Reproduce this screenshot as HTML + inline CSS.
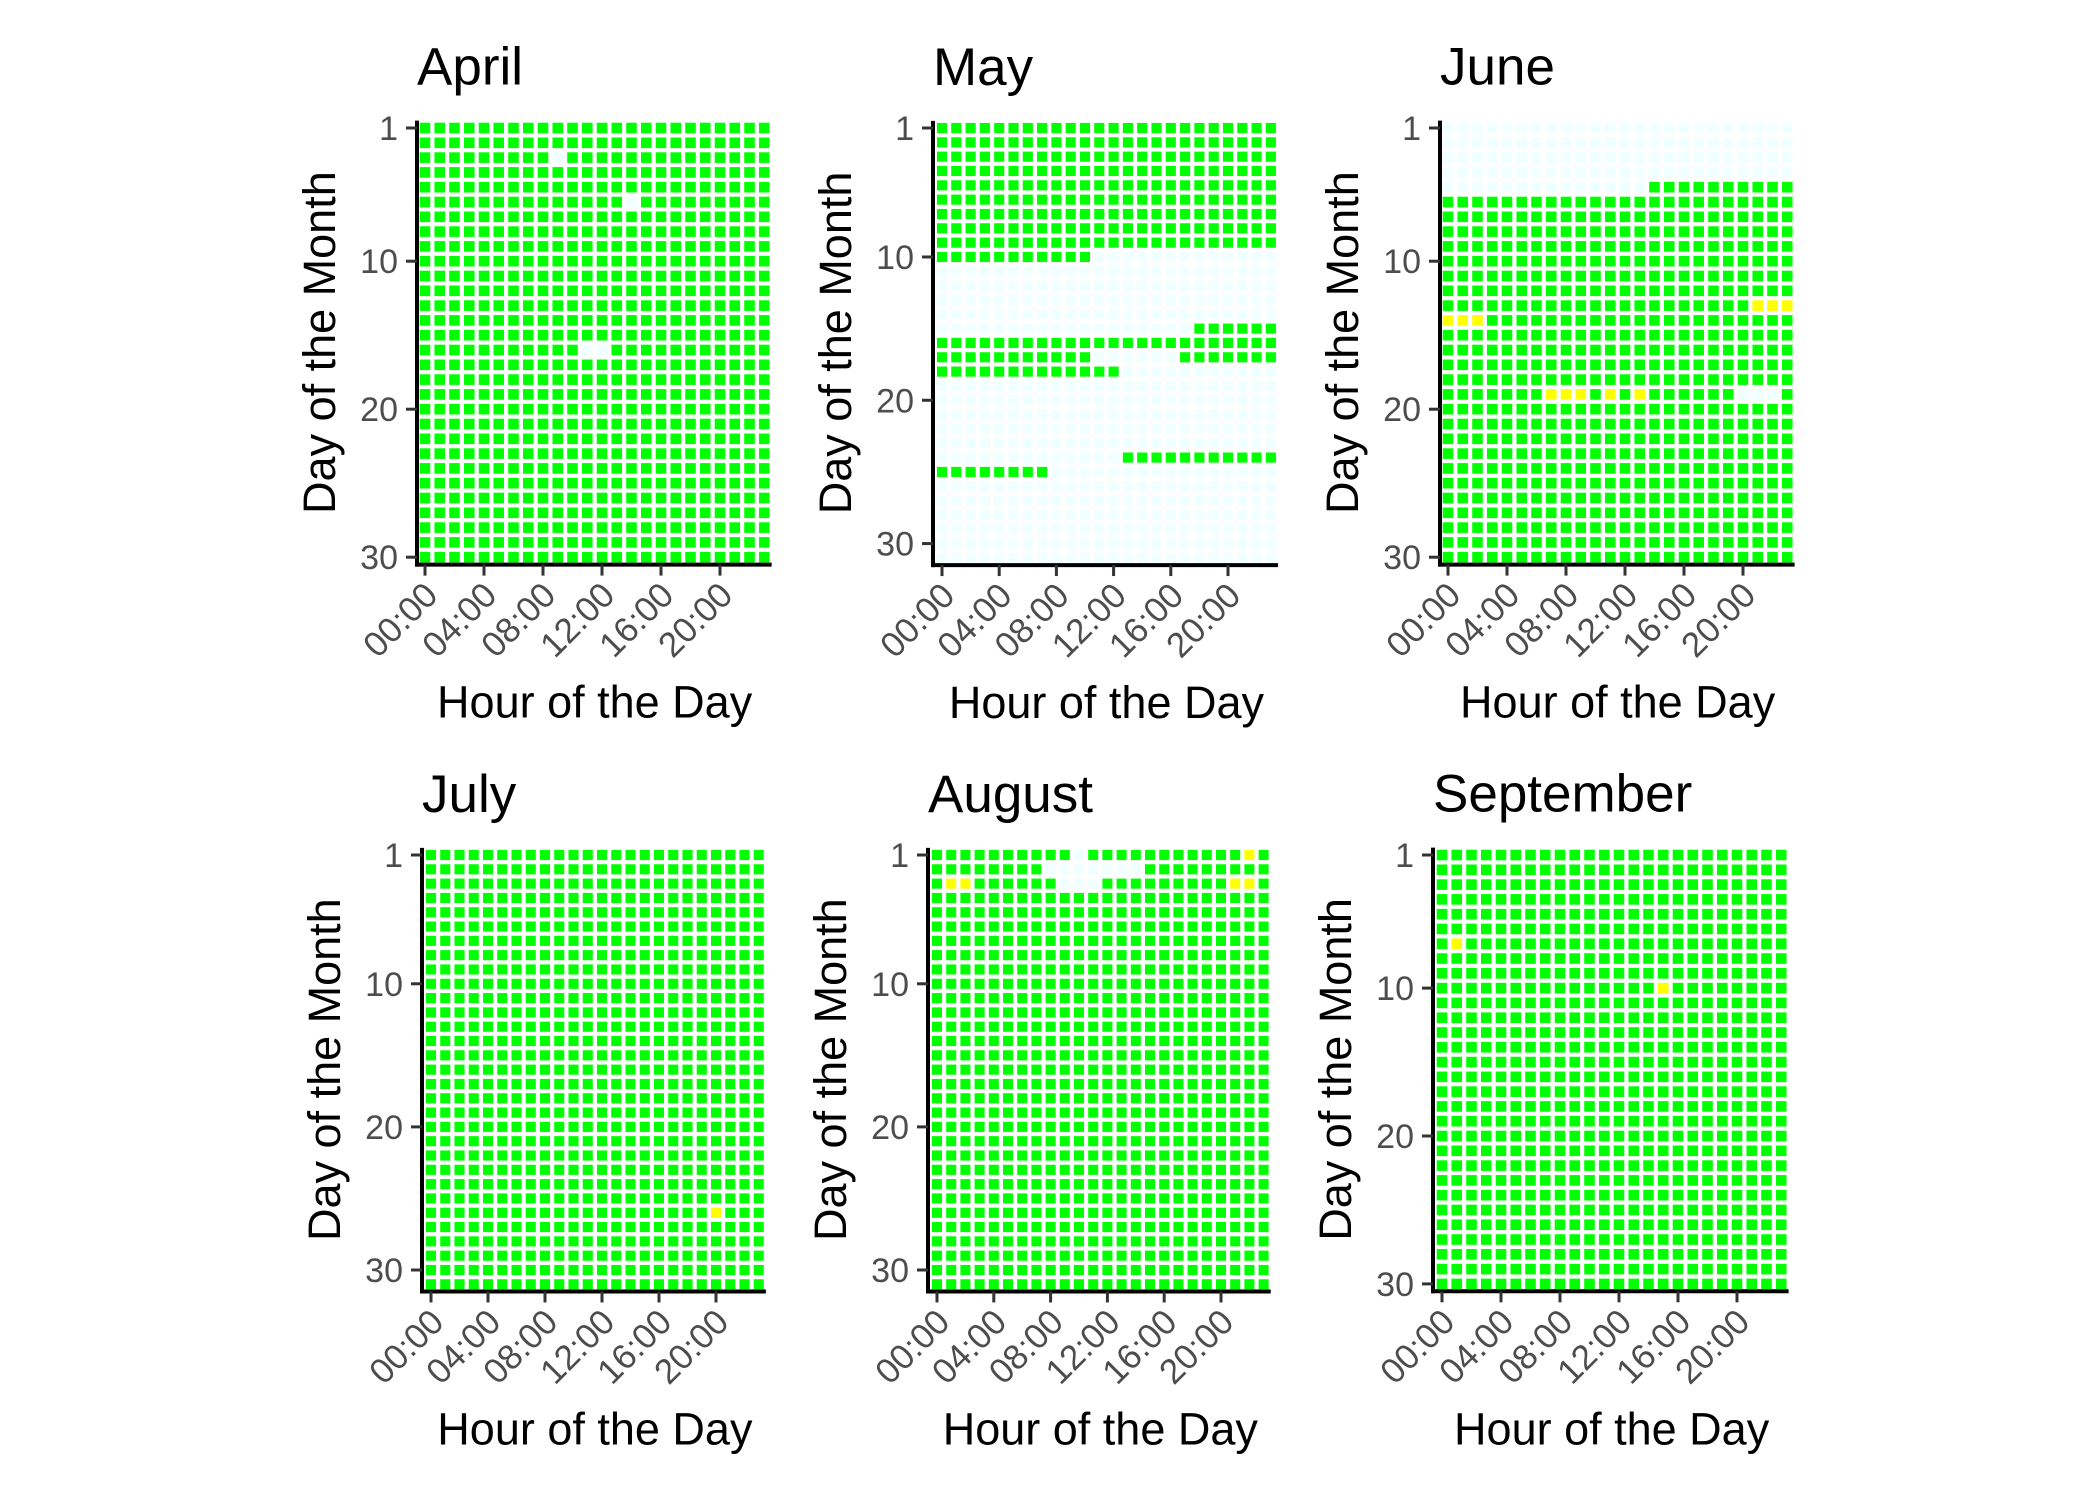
<!DOCTYPE html>
<html><head><meta charset="utf-8"><style>
html,body{margin:0;padding:0;background:#fff;}
svg{display:block;}
text{font-family:"Liberation Sans",Arial,sans-serif;}
</style></head><body>
<svg id="s" width="2100" height="1500" viewBox="0 0 2100 1500" xmlns="http://www.w3.org/2000/svg"></svg>
<script>
var G='#00FF00',Y='#FFFF00',L='#F0FFFF';
var P=[
 {t:'April',ax:417,c0:425,dx:14.75,n:30,r0:128,dy:14.8,f:function(d,c){
   if((d==3&&c==9)||(d==6&&c==14)||(d==16&&(c==11||c==12)))return L;return G;}},
 {t:'May',ax:933,c0:942,dx:14.3,n:31,r0:128,dy:14.33,f:function(d,c){
   if(d<=9)return G;
   if(d==10)return c<=10?G:L;
   if(d==15)return c>=18?G:L;
   if(d==16)return G;
   if(d==17)return (c<=10||c>=17)?G:L;
   if(d==18)return c<=12?G:L;
   if(d==24)return c>=13?G:L;
   if(d==25)return c<=7?G:L;
   return L;}},
 {t:'June',ax:1440,c0:1448,dx:14.75,n:30,r0:128,dy:14.8,f:function(d,c){
   if(d<=4)return L;
   if(d==5)return c>=14?G:L;
   if(d==13&&c>=21)return Y;
   if(d==14&&c<=2)return Y;
   if(d==19){if([7,8,9,11,13].indexOf(c)>=0)return Y;if(c>=20&&c<=22)return L;}
   return G;}},
 {t:'July',ax:422,c0:431,dx:14.25,n:31,r0:855,dy:14.31,f:function(d,c){
   return (d==26&&c==20)?Y:G;}},
 {t:'August',ax:928,c0:937,dx:14.2,n:31,r0:855,dy:14.31,f:function(d,c){
   if(d==1){if(c==10)return L;if(c==22)return Y;}
   if(d==2&&c>=8&&c<=14)return L;
   if(d==3){if(c==1||c==2||c==21||c==22)return Y;if(c>=9&&c<=11)return L;}
   return G;}},
 {t:'September',ax:1433,c0:1442,dx:14.75,n:30,r0:855,dy:14.79,f:function(d,c){
   if((d==7&&c==1)||(d==10&&c==15))return Y;return G;}}
];
var h='';
P.forEach(function(p){
  var top=p.r0-p.dy/2, bot=p.r0+(p.n-1)*p.dy+p.dy/2;
  var left=p.c0-p.dx/2, right=p.c0+23*p.dx+p.dx/2;
  for(var d=1;d<=p.n;d++){for(var c=0;c<24;c++){
    var x=p.c0+c*p.dx-p.dx/2+2.1, y=p.r0+(d-1)*p.dy-p.dy/2+2.1;
    h+='<rect x="'+x.toFixed(2)+'" y="'+y.toFixed(2)+'" width="'+(p.dx-4.2).toFixed(2)+'" height="'+(p.dy-4.2).toFixed(2)+'" fill="'+p.f(d,c)+'"/>';
  }}
  h+='<line x1="'+p.ax+'" y1="'+top+'" x2="'+p.ax+'" y2="'+(bot+2)+'" stroke="#000" stroke-width="4"/>';
  h+='<line x1="'+(p.ax-2)+'" y1="'+bot+'" x2="'+right+'" y2="'+bot+'" stroke="#000" stroke-width="4"/>';
  [1,10,20,30].forEach(function(v){
    var y=p.r0+(v-1)*p.dy;
    h+='<line x1="'+(p.ax-11)+'" y1="'+y+'" x2="'+p.ax+'" y2="'+y+'" stroke="#333" stroke-width="3"/>';
    h+='<text x="'+(p.ax-19)+'" y="'+(y+12)+'" font-size="34" fill="#4D4D4D" text-anchor="end">'+v+'</text>';
  });
  for(var k=0;k<6;k++){
    var x=p.c0+k*4*p.dx;
    h+='<line x1="'+x+'" y1="'+bot+'" x2="'+x+'" y2="'+(bot+11)+'" stroke="#333" stroke-width="3"/>';
    var lab=(k*4<10?'0':'')+(k*4)+':00';
    var axp=x+6, ayp=bot+24;
    h+='<text x="'+axp+'" y="'+ayp+'" dy="0.35em" font-size="35" fill="#4D4D4D" text-anchor="end" transform="rotate(-45 '+axp+' '+ayp+')">'+lab+'</text>';
  }
  var cx=(left+right)/2, cy=(top+bot)/2;
  h+='<text x="'+cx+'" y="'+(bot+153)+'" font-size="45" fill="#000" text-anchor="middle">Hour of the Day</text>';
  var tx=p.ax-82;
  h+='<text x="'+tx+'" y="'+cy+'" font-size="45" fill="#000" text-anchor="middle" transform="rotate(-90 '+tx+' '+cy+')">Day of the Month</text>';
  h+='<text x="'+p.ax+'" y="'+(top-36)+'" font-size="53" fill="#000">'+p.t+'</text>';
});
document.getElementById('s').innerHTML=h;
</script>
</body></html>
